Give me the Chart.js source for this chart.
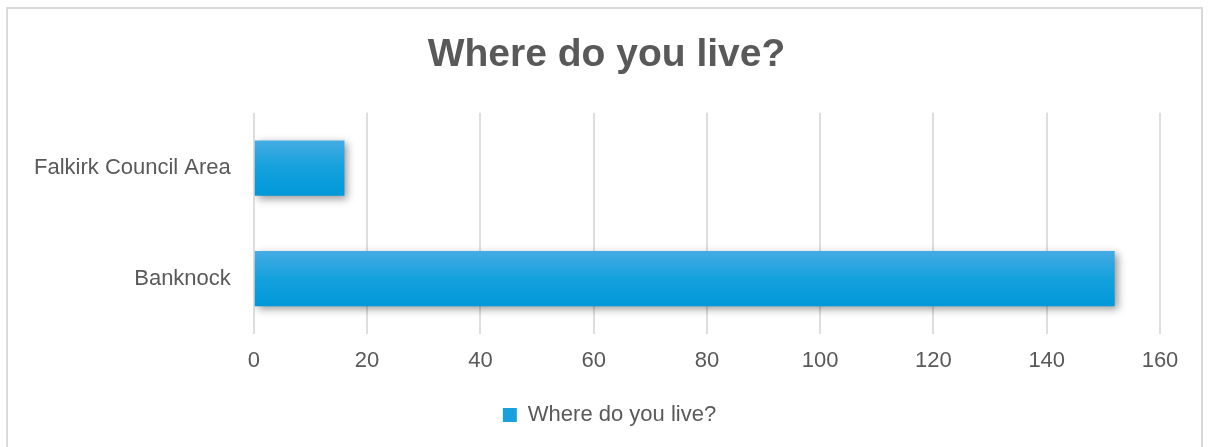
<!DOCTYPE html>
<html>
<head>
<meta charset="utf-8">
<script src="https://cdn.jsdelivr.net/npm/chart.js@4.4.1/dist/chart.umd.min.js"></script>
<style>
  html, body { margin: 0; padding: 0; background: #ffffff; }
  #wrap { position: absolute; left: 6px; top: 7px; width: 1197px; height: 445px; border: 2px solid #d9d9d9; box-sizing: border-box; background: #fff; }
  #c { position: absolute; left: 0; top: 0; }
</style>
</head>
<body>
<div id="wrap"><canvas id="c" width="1193" height="441"></canvas></div>
<script>
const categories = ["Falkirk Council Area", "Banknock"];
const seriesName = "Where do you live?";
const values = [16, 152];
const xTicks = [0, 20, 40, 60, 80, 100, 120, 140, 160];
const titleText = "Where do you live?";

const FONT = "'Liberation Sans', Arial, sans-serif";
const TEXT = "#595959";
const BAR_PCT = 0.5;

const shadowPlugin = {
  id: 'barShadow',
  beforeDatasetsDraw(chart) {
    const ctx = chart.ctx;
    ctx.save();
    ctx.shadowColor = 'rgba(0,0,0,0.4)';
    ctx.shadowBlur = 8;
    ctx.shadowOffsetX = 3;
    ctx.shadowOffsetY = 3;
  },
  afterDatasetsDraw(chart) {
    chart.ctx.restore();
  }
};

// Centre title and legend on the whole canvas instead of the padded area
const recenterPlugin = {
  id: 'recenter',
  afterLayout(chart) {
    const t = chart.titleBlock;
    if (t) { t.left += 17; t.right += 17; }
    const l = chart.legend;
    if (l) { l.left += 20; l.right += 20; }
  }
};

function barFill(c) {
  const chart = c.chart;
  const ys = chart.scales && chart.scales.y;
  if (!ys || !chart.chartArea || c.dataIndex === undefined) return '#1aa0dc';
  const yc = ys.getPixelForValue(c.dataIndex);
  const half = (ys.height / categories.length) * BAR_PCT / 2;
  if (!isFinite(yc) || !isFinite(half) || half <= 0) return '#1aa0dc';
  const g = chart.ctx.createLinearGradient(0, yc - half, 0, yc + half);
  g.addColorStop(0, '#45abe3');
  g.addColorStop(0.5, '#14a1dd');
  g.addColorStop(1, '#0098d8');
  return g;
}

const ctx = document.getElementById('c').getContext('2d');
new Chart(ctx, {
  type: 'bar',
  data: {
    labels: categories,
    datasets: [{
      label: seriesName,
      data: values,
      backgroundColor: barFill,
      borderWidth: 0,
      barPercentage: BAR_PCT,
      categoryPercentage: 1.0
    }]
  },
  options: {
    indexAxis: 'y',
    responsive: false,
    animation: false,
    layout: { padding: { left: 11, right: 41, top: 0, bottom: 14 } },
    plugins: {
      title: {
        display: true,
        text: titleText,
        color: TEXT,
        font: { family: FONT, size: 39, weight: 'bold' },
        padding: { top: 23, bottom: 34 }
      },
      legend: {
        position: 'bottom',
        labels: {
          color: TEXT,
          font: { family: FONT, size: 22 },
          boxWidth: 14,
          boxHeight: 14,
          padding: 19,
          generateLabels: (chart) => [{
            text: seriesName,
            fillStyle: '#1aa0dc',
            strokeStyle: '#1aa0dc',
            lineWidth: 0,
            fontColor: TEXT
          }]
        }
      },
      tooltip: { enabled: false }
    },
    scales: {
      x: {
        min: 0,
        max: 160,
        afterBuildTicks: (axis) => { axis.ticks = xTicks.map(v => ({ value: v })); },
        afterFit: (axis) => { axis.height = 51; },
        grid: { color: '#dedede', lineWidth: 2, drawTicks: false },
        border: { display: false },
        ticks: { color: TEXT, font: { family: FONT, size: 22 }, padding: 14 }
      },
      y: {
        grid: { display: false },
        border: { display: false },
        ticks: { color: TEXT, font: { family: FONT, size: 22 }, padding: 15 }
      }
    }
  },
  plugins: [shadowPlugin, recenterPlugin]
});
</script>
</body>
</html>
